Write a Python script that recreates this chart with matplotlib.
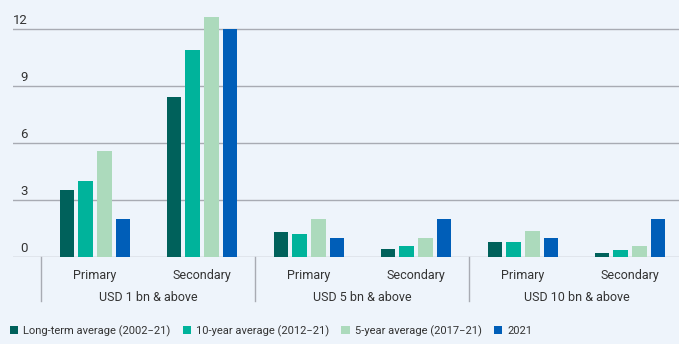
import numpy as np
import matplotlib
matplotlib.use("Agg")
import matplotlib.pyplot as plt

plt.rcParams['font.family'] = ['Roboto', 'DejaVu Sans']

# data
sub_labels = ["Primary", "Secondary", "Primary", "Secondary", "Primary", "Secondary"]
group_labels = ["USD 1 bn & above", "USD 5 bn & above", "USD 10 bn & above"]
series_names = ["Long-term average (2002\u221221)", "10-year average (2012\u221221)",
                "5-year average (2017\u221221)", "2021"]
long_term = [3.53, 8.4, 1.34, 0.44, 0.8, 0.24]
ten_year = [3.99, 10.9, 1.2, 0.59, 0.8, 0.38]
five_year = [5.58, 12.6, 2.0, 1.0, 1.38, 0.59]
y2021 = [1.99, 12.0, 1.0, 2.0, 1.0, 2.0]
yticks = [0, 3, 6, 9, 12]

colors = ["#00615b", "#00b39b", "#acdabc", "#005eb8"]
bg = "#eef4fb"
txt = "#333333"

fig = plt.figure(figsize=(6.79, 3.44), dpi=100, facecolor=bg)
ax = fig.add_axes([13/679, 1-257.3/344, 1-13/679, 257.3/344])
ax.set_facecolor(bg)

x = np.arange(len(sub_labels))
step = 0.175
w = 0.137
for k, vals in enumerate([long_term, ten_year, five_year, y2021]):
    ax.bar(x + (k - 1.5) * step, vals, width=w, color=colors[k],
           label=series_names[k], zorder=3)

ax.set_xlim(-0.766, 5.458)
ax.set_ylim(0, 13.5)

for t in yticks:
    ax.axhline(t, color="#a8abb3", lw=1.0, zorder=1)
    ax.annotate(str(t), xy=(15/666, t), xycoords=('axes fraction', 'data'),
                xytext=(0, 3.5), textcoords='offset points',
                ha='right', va='baseline', fontsize=9.5, color=txt)

for s in ax.spines.values():
    s.set_visible(False)
ax.set_xticks([])
ax.set_yticks([])

# category labels below the axis
for i, lab in enumerate(sub_labels):
    ax.text(i, -18/257.3, lab, transform=ax.get_xaxis_transform(),
            ha='center', va='center', fontsize=9, color=txt)
for g, lab in enumerate(group_labels):
    ax.text(2*g + 0.5, -40.4/257.3, lab, transform=ax.get_xaxis_transform(),
            ha='center', va='center', fontsize=9, color=txt)
for sx in [-0.5, 1.5, 3.5, 5.5]:
    ax.plot([sx, sx], [0, -44/257.3], transform=ax.get_xaxis_transform(),
            color="#a8abb3", lw=1.0, clip_on=False)

fig.legend(loc='center left', bbox_to_anchor=(10/679, 13/344), ncol=4,
           frameon=False, fontsize=8, handlelength=0.75, handleheight=0.75,
           handletextpad=0.45, columnspacing=1.1, borderpad=0,
           borderaxespad=0, labelcolor=txt)

fig.savefig("out.png", dpi=100, facecolor=bg)
